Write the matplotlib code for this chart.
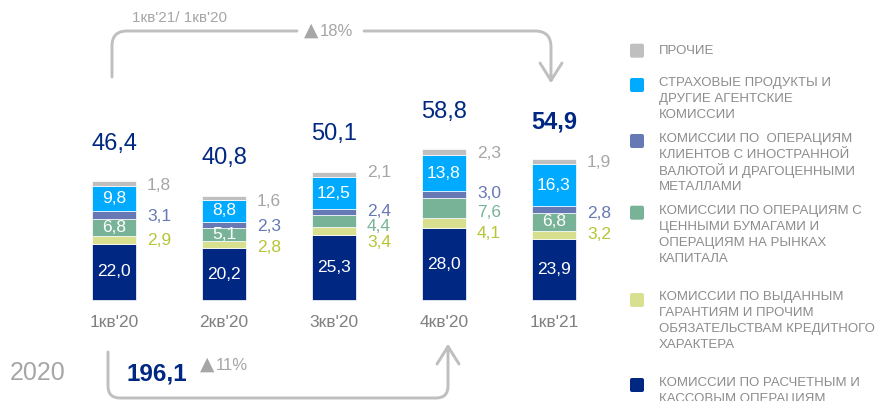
import numpy as np
import matplotlib
matplotlib.use("Agg")
import matplotlib.pyplot as plt
from matplotlib.path import Path
from matplotlib.patches import PathPatch, FancyBboxPatch

plt.rcParams["font.family"] = ["Liberation Sans", "DejaVu Sans"]

# --- data (bln RUB) ---
quarters = ["1кв'20", "2кв'20", "3кв'20", "4кв'20", "1кв'21"]
settlement = [22.0, 20.2, 25.3, 28.0, 23.9]
guarantees = [2.9, 2.8, 3.4, 4.1, 3.2]
securities = [6.8, 5.1, 4.4, 7.6, 6.8]
fx_metals = [3.1, 2.3, 2.4, 3.0, 2.8]
insurance = [9.8, 8.8, 12.5, 13.8, 16.3]
other = [1.8, 1.6, 2.1, 2.3, 1.9]

year_label = "2020"
year_total = "196,1"
year_growth = "11%"
yoy_label = "1кв'21/ 1кв'20"
yoy_growth = "18%"
up_sign = "▲"

legend_labels = [
    "ПРОЧИЕ",
    "СТРАХОВЫЕ ПРОДУКТЫ И\nДРУГИЕ АГЕНТСКИЕ\nКОМИССИИ",
    "КОМИССИИ ПО  ОПЕРАЦИЯМ\nКЛИЕНТОВ С ИНОСТРАННОЙ\nВАЛЮТОЙ И ДРАГОЦЕННЫМИ\nМЕТАЛЛАМИ",
    "КОМИССИИ ПО ОПЕРАЦИЯМ С\nЦЕННЫМИ БУМАГАМИ И\nОПЕРАЦИЯМ НА РЫНКАХ\nКАПИТАЛА",
    "КОМИССИИ ПО ВЫДАННЫМ\nГАРАНТИЯМ И ПРОЧИМ\nОБЯЗАТЕЛЬСТВАМ КРЕДИТНОГО\nХАРАКТЕРА",
    "КОМИССИИ ПО РАСЧЕТНЫМ И\nКАССОВЫМ ОПЕРАЦИЯМ",
]

# --- style ---
C_DARK = "#002882"
C_YEL = "#D8DF8E"
C_GRN = "#78B397"
C_PUR = "#6779B5"
C_CYAN = "#00AAFF"
C_GREY = "#BFBFBF"
LBL_YEL = "#B7C536"
LBL_GREY = "#A6A6A6"
TXT_GREY = "#808080"
ARROW = "#BFBFBF"

fig = plt.figure(figsize=(8.81, 4.01), dpi=100)

# bars axes: 110 px between bars, 2.56 px per unit, baseline 101 px from bottom
ax = fig.add_axes([0, 0, 1, 1])
ax.set_xlim(-114 / 110, (881 - 114) / 110)
ax.set_ylim(-101 / 2.56, 300 / 2.56)
ax.axis("off")

x = np.arange(len(quarters))
series = [settlement, guarantees, securities, fx_metals, insurance, other]
colors = [C_DARK, C_YEL, C_GRN, C_PUR, C_CYAN, C_GREY]
bottoms = np.zeros(len(quarters))
centers = []
for vals, col in zip(series, colors):
    vals = np.asarray(vals)
    ax.bar(x, vals, 0.4, bottom=bottoms, color=col, edgecolor="white", linewidth=0.5)
    centers.append(bottoms + vals / 2)
    bottoms = bottoms + vals
totals = bottoms


def fmt(v):
    return f"{v:.1f}".replace(".", ",")


PT = 0.72  # px -> pt

# inside labels
for i in x:
    ax.text(i, centers[0][i], fmt(settlement[i]), color="white", ha="center", va="center", fontsize=12.5)
    ax.text(i, centers[4][i], fmt(insurance[i]), color="white", ha="center", va="center", fontsize=12.5)

sec_inside = [True, True, False, False, True]
# outside labels: (series idx, values, colour, vertical nudge px per bar)
outside = [
    (5, other, LBL_GREY, [1.5, 3.5, -2, 1.5, 1]),
    (3, fx_metals, C_PUR, [2, 1, -0.5, -1.5, 3.5]),
    (2, securities, C_GRN, [0, 0, 6, 4, 0]),
    (1, guarantees, LBL_YEL, [1, 3, 11.5, 10, 0]),
]
for k, vals, col, nudge in outside:
    for i in x:
        if k == 2 and sec_inside[i]:
            continue
        ax.annotate(fmt(vals[i]), (i, centers[k][i]), xytext=(33 * PT, -nudge[i] * PT),
                    textcoords="offset points", color=col, ha="left", va="center", fontsize=12.5)
for i in x:
    if sec_inside[i]:
        ax.text(i, centers[2][i], fmt(securities[i]), color="white", ha="center", va="center", fontsize=12.5)

# totals
for i in x:
    ax.annotate(fmt(totals[i]), (i, totals[i]), xytext=(0, 37.5 * PT), textcoords="offset points",
                color=C_DARK, ha="center", va="center", fontsize=17,
                fontweight="bold" if i == len(x) - 1 else "normal")

# category labels
for i in x:
    ax.annotate(quarters[i], (i, 0), xytext=(0, -22.5 * PT), textcoords="offset points",
                color=TXT_GREY, ha="center", va="center", fontsize=12.5)

# overlay in pixel coordinates for brackets and legend
ov = fig.add_axes([0, 0, 1, 1])
ov.set_xlim(0, 881)
ov.set_ylim(401, 0)
ov.axis("off")
ov.patch.set_alpha(0)


def bracket(points, codes):
    ov.add_patch(PathPatch(Path(points, codes), facecolor="none", edgecolor=ARROW,
                           lw=2.1, capstyle="round", joinstyle="round"))


M, L, C = Path.MOVETO, Path.LINETO, Path.CURVE3
# top bracket (1кв'21 vs 1кв'20)
bracket([(112, 77), (112, 46), (112, 31), (127, 31), (297, 31)], [M, L, C, C, L])
bracket([(364, 31), (535, 31), (551, 31), (551, 47), (551, 80), (540, 63), (551, 80.5), (562, 63)],
        [M, L, C, C, L, M, L, L])
# bottom bracket (year 2020)
bracket([(108, 352), (108, 386), (108, 398), (120, 398), (436, 398), (448, 398), (448, 386), (448, 347),
         (437, 364), (448, 346.5), (459, 364)],
        [M, L, C, C, L, C, C, L, M, L, L])

ov.text(179, 17.5, yoy_label, color=LBL_GREY, ha="center", va="center", fontsize=11)
ov.text(304, 30.5, up_sign, color=LBL_GREY, ha="left", va="center", fontsize=13.5, family="DejaVu Sans")
ov.text(320, 31, yoy_growth, color=LBL_GREY, ha="left", va="center", fontsize=12)
ov.text(38, 373, year_label, color=LBL_GREY, ha="center", va="center", fontsize=18)
ov.text(126, 374, year_total, color=C_DARK, ha="left", va="center", fontsize=17.5, fontweight="bold")
ov.text(200, 364.5, up_sign, color=LBL_GREY, ha="left", va="center", fontsize=13.5, family="DejaVu Sans")
ov.text(216, 365, year_growth, color=LBL_GREY, ha="left", va="center", fontsize=12)

# legend
leg_colors = [C_GREY, C_CYAN, C_PUR, C_GRN, C_YEL, C_DARK]
sq_y = [50.7, 85, 141, 212.7, 300, 385]
txt_y = [50.7, 82.7, 139, 211, 297, 383]
for col, sy, ty, lab in zip(leg_colors, sq_y, txt_y, legend_labels):
    ov.add_patch(FancyBboxPatch((630, sy - 7), 14, 14, boxstyle="round,pad=0,rounding_size=2",
                                facecolor=col, edgecolor="none"))
    for j, line in enumerate(lab.split("\n")):
        ov.text(659, ty + 16 * j, line, color="#8C8C8C", ha="left", va="center", fontsize=9.5)

fig.savefig("out.png", dpi=100)
